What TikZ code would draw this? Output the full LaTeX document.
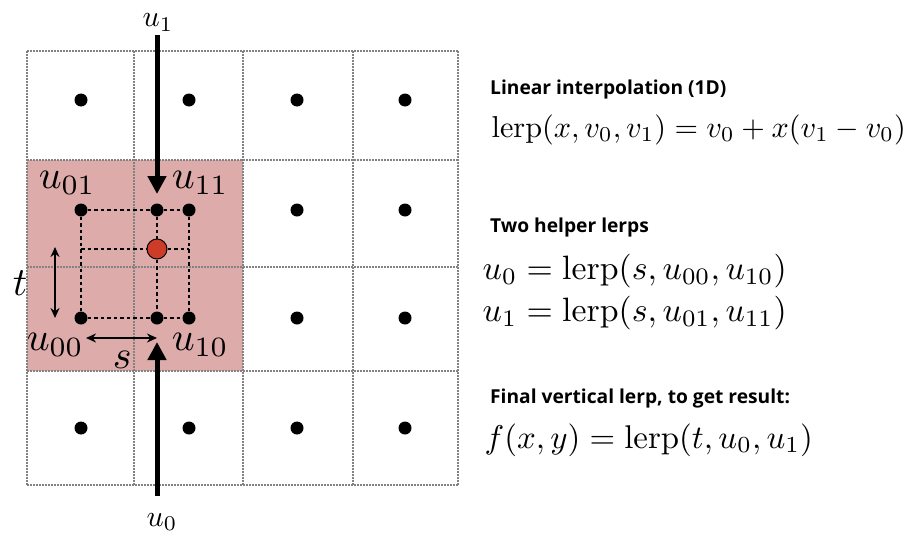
\documentclass[tikz,border=0pt]{standalone}
\usepackage{fontspec}
\newfontfamily\headfont{Open Sans}
\usetikzlibrary{arrows.meta}
\definecolor{pinkfill}{RGB}{221,172,170}
\definecolor{reddot}{RGB}{205,60,40}
\definecolor{gridgray}{RGB}{130,130,130}
\tikzset{
  gridline/.style={gridgray, line width=1.6pt, dash pattern=on 1.6pt off 1.4pt},
  blackdot/.style={circle, fill=black, inner sep=0pt, minimum size=13pt},
  reddotstyle/.style={circle, fill=reddot, draw=black, line width=1pt, inner sep=0pt, minimum size=20pt},
  dashline/.style={black, line width=1.5pt, dash pattern=on 3.5pt off 3pt},
  bigarrow/.style={line width=5pt, -{Triangle[length=18pt,width=18pt]}},
  smallarrow/.style={line width=2pt, {Stealth[length=10pt,width=9pt]}-{Stealth[length=10pt,width=9pt]}},
  cornerlabel/.style={inner sep=0pt, anchor=base west, scale=4.0},
  endlabel/.style={inner sep=0pt, anchor=base west, scale=3.0},
  heading/.style={inner sep=0pt, anchor=base west, font=\headfont\bfseries\fontsize{19.2}{20}\selectfont},
  equation/.style={inner sep=0pt, anchor=base west, scale=3.1},
}
\begin{document}
\begin{tikzpicture}[x=1pt,y=-1pt]
\useasboundingbox[fill=white] (0,0) rectangle (909,538);
% pink region
\fill[pinkfill] (27,160) rectangle (243,371);
% grid
\foreach \x in {27,134,243,353,458} \draw[gridline] (\x,51) -- (\x,485);
\foreach \y in {51,160,267,371,485} \draw[gridline] (27,\y) -- (458,\y);
% dots
\foreach \i/\x in {0/81,1/189,2/297,3/405}{
  \foreach \j/\y in {0/100,1/210,2/318,3/428}{
    \node[blackdot] (g\i\j) at (\x,\y) {};
  }
}
% interpolation points
\node[blackdot] (m1) at (157,210) {};
\node[blackdot] (m0) at (157,318) {};
\coordinate (hl) at (81,249);
\node[reddotstyle] (r) at (157,249) {};
% dashed lines
\draw[dashline] (g01) -- (m1) -- (g11);
\draw[dashline] (g02) -- (m0) -- (g12);
\draw[dashline] (g01) -- (g02);
\draw[dashline] (g11) -- (g12);
\draw[dashline] (m1) -- (r) -- (m0);
\draw[dashline] (hl) -- (r) -- (g11|-r);
% labels
\node[cornerlabel] (l01) at (38,188) {$u_{01}$};
\node[cornerlabel] (l11) at (171,188) {$u_{11}$};
\node[cornerlabel] (l00) at (26,350) {$u_{00}$};
\node[cornerlabel] (l10) at (171,350) {$u_{10}$};
\node[cornerlabel] (ls) at (112,368) {$s$};
\node[cornerlabel] (lt) at (12,295) {$t$};
\node[endlabel] (lu1) at (142,27) {$u_1$};
\node[endlabel] (lu0) at (146,526) {$u_0$};
% big arrows
\coordinate (a1s) at (157,35);
\coordinate (a1e) at (157,194);
\coordinate (a0s) at (157,496);
\coordinate (a0e) at (157,342);
\draw[bigarrow] (a1s) -- (a1e);
\draw[bigarrow] (a0s) -- (a0e);
% small arrows
\coordinate (ts) at (55,247);
\coordinate (te) at (55,318);
\coordinate (ss) at (86,338);
\coordinate (se) at (157,338);
\draw[smallarrow] (ts) -- (te);
\draw[smallarrow] (ss) -- (se);
% text
\node[heading] (h1) at (490,94) {Linear interpolation (1D)};
\node[equation, scale=0.975] (e1) at (491,137) {$\mathrm{lerp}(x,v_0,v_1)=v_0+x(v_1-v_0)$};
\node[heading] (h2) at (490,232) {Two helper lerps};
\node[equation, scale=1.09] (e2) at (482,279) {$u_0=\mathrm{lerp}(s,u_{00},u_{10})$};
\node[equation, scale=1.09] (e3) at (482,321) {$u_1=\mathrm{lerp}(s,u_{01},u_{11})$};
\node[heading] (h3) at (490,403) {Final vertical lerp, to get result:};
\node[equation, scale=1.06] (e4) at (484,448) {$f(x,y)=\mathrm{lerp}(t,u_0,u_1)$};
\end{tikzpicture}
\end{document}
